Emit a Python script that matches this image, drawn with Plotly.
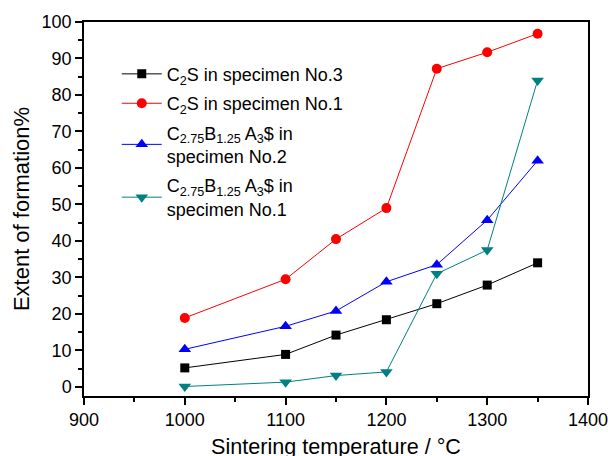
import plotly.graph_objects as go

temps = [1000, 1100, 1150, 1200, 1250, 1300, 1350]
c2s_no3 = [5.2, 8.9, 14.2, 18.4, 22.8, 27.9, 34.0]
c2s_no1 = [18.9, 29.5, 40.5, 49.0, 87.2, 91.7, 96.8]
c275_no2 = [10.3, 16.6, 20.8, 28.8, 33.5, 45.7, 62.0]
c275_no1 = [0.1, 1.3, 3.1, 4.1, 31.0, 37.5, 84.0]

names = [
    "C<sub>2</sub>S in specimen No.3",
    "C<sub>2</sub>S in specimen No.1",
    "C<sub>2.75</sub>B<sub>1.25</sub> A<sub>3</sub>$ in<br>specimen No.2",
    "C<sub>2.75</sub>B<sub>1.25</sub> A<sub>3</sub>$ in<br>specimen No.1",
]
series = [c2s_no3, c2s_no1, c275_no2, c275_no1]
colors = ["#000000", "#FF0000", "#0000FF", "#008080"]
symbols = ["square", "circle", "triangle-up", "triangle-down"]
sizes = [9, 10, 11, 11]
x_title = "Sintering temperature / °C"
y_title = "Extent of formation%"

fig = go.Figure()
for i, (n, s, c, sym, sz) in enumerate(zip(names, series, colors, symbols, sizes)):
    fig.add_trace(go.Scatter(
        x=temps, y=s, name=n, mode="lines+markers", legendgroup=f"g{i}",
        line=dict(color=c, width=1),
        marker=dict(symbol=sym, size=sz, color=c),
    ))

font_family = "Liberation Sans, Arial, sans-serif"
fig.update_layout(
    width=608, height=456,
    margin=dict(l=84, r=20, t=22, b=60),
    plot_bgcolor="white", paper_bgcolor="white",
    font=dict(family=font_family, size=18, color="black"),
    showlegend=True,
    legend=dict(x=0.065, y=0.91, xanchor="left", yanchor="top",
                bgcolor="rgba(0,0,0,0)", font=dict(size=18),
                tracegroupgap=3, itemwidth=40),
    xaxis=dict(
        range=[900, 1400], tickvals=[900, 1000, 1100, 1200, 1300, 1400],
        ticks="outside", ticklen=7, tickwidth=1.5, tickcolor="black",
        minor=dict(dtick=50, ticks="outside", ticklen=4, tickwidth=1.5, tickcolor="black"),
        showline=True, linecolor="black", linewidth=1.5, mirror=True,
        showgrid=False, zeroline=False, ticklabeloverflow="allow",
        automargin=False,
        tickfont=dict(size=18),
    ),
    yaxis=dict(
        range=[-2.5, 100], tickvals=list(range(0, 101, 10)),
        ticks="outside", ticklen=7, tickwidth=1.5, tickcolor="black",
        minor=dict(dtick=5, ticks="outside", ticklen=4, tickwidth=1.5, tickcolor="black"),
        showline=True, linecolor="black", linewidth=1.5, mirror=True,
        showgrid=False, zeroline=False, ticklabeloverflow="allow",
        automargin=False,
        title=dict(text=y_title, standoff=6),
        tickfont=dict(size=18),
    ),
    annotations=[dict(
        text=x_title, xref="paper", yref="paper", x=0.5, y=-0.136,
        xanchor="center", yanchor="middle", showarrow=False,
        font=dict(size=21.6),
    )],
)

fig.write_html("out.html")
